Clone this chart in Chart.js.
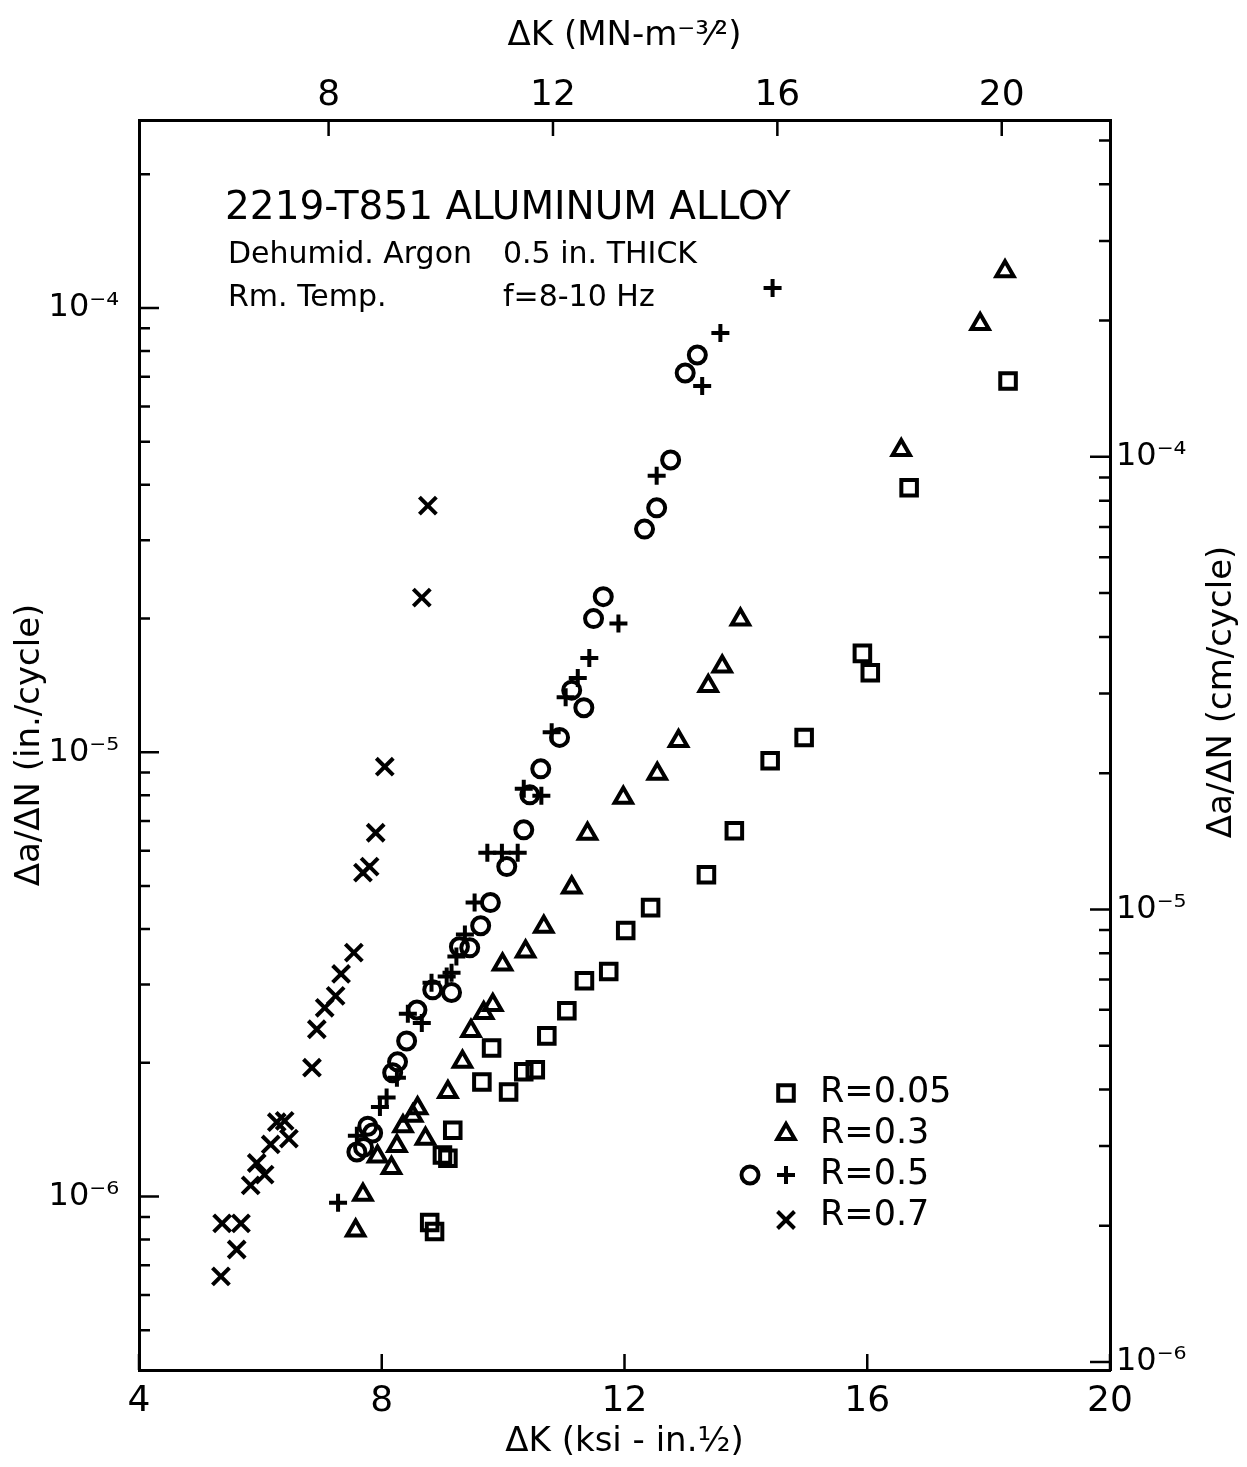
<!DOCTYPE html>
<html>
<head>
<meta charset="utf-8">
<script src="https://cdn.jsdelivr.net/npm/chart.js@4/dist/chart.umd.min.js"></script>
<style>
  body { margin: 0; background: #fff; }
  #wrap { width: 1247px; height: 1467px; }
</style>
</head>
<body>
<div id="wrap"><canvas id="grafico"></canvas></div>
<script>
// stress intensity range, ksi-in^1/2, and growth rate, in./cycle
const kR005 = [8.79, 8.87, 9.00, 9.09, 9.17, 9.65, 9.81, 10.09, 10.34, 10.53, 10.72, 11.05, 11.34, 11.74, 12.02, 12.43, 13.35, 13.81, 14.40, 14.96, 15.92, 16.05, 16.69, 18.32];
const rateR005 = [8.74e-7, 8.34e-7, 1.24e-6, 1.22e-6, 1.41e-6, 1.81e-6, 2.16e-6, 1.72e-6, 1.91e-6, 1.93e-6, 2.30e-6, 2.62e-6, 3.06e-6, 3.21e-6, 3.97e-6, 4.47e-6, 5.30e-6, 6.66e-6, 9.57e-6, 1.08e-5, 1.67e-5, 1.51e-5, 3.94e-5, 6.85e-5];

const kR03 = [7.57, 7.69, 7.93, 8.16, 8.25, 8.35, 8.51, 8.59, 8.72, 9.09, 9.33, 9.47, 9.68, 9.83, 9.99, 10.37, 10.67, 11.13, 11.39, 11.98, 12.54, 12.89, 13.38, 13.61, 13.91, 16.56, 17.86, 18.27];
const rateR03 = [8.39e-7, 1.01e-6, 1.23e-6, 1.16e-6, 1.30e-6, 1.44e-6, 1.52e-6, 1.58e-6, 1.35e-6, 1.72e-6, 2.01e-6, 2.36e-6, 2.59e-6, 2.70e-6, 3.33e-6, 3.56e-6, 4.05e-6, 4.96e-6, 6.56e-6, 7.90e-6, 8.95e-6, 1.06e-5, 1.41e-5, 1.56e-5, 1.99e-5, 4.79e-5, 9.20e-5, 1.21e-4];

// R=0.5 was plotted with two symbols
const kR05o = [7.59, 7.70, 7.77, 7.85, 8.18, 8.26, 8.41, 8.58, 8.84, 9.15, 9.28, 9.45, 9.63, 9.79, 10.06, 10.34, 10.44, 10.62, 10.93, 11.13, 11.33, 11.49, 11.65, 12.33, 12.53, 12.76, 13.00, 13.20];
const rateR05o = [1.26e-6, 1.29e-6, 1.44e-6, 1.39e-6, 1.90e-6, 2.01e-6, 2.24e-6, 2.63e-6, 2.92e-6, 2.88e-6, 3.65e-6, 3.63e-6, 4.07e-6, 4.59e-6, 5.53e-6, 6.69e-6, 8.02e-6, 9.18e-6, 1.08e-5, 1.38e-5, 1.26e-5, 2.00e-5, 2.24e-5, 3.18e-5, 3.55e-5, 4.55e-5, 7.14e-5, 7.84e-5];
const kR05p = [7.28, 7.59, 7.97, 8.08, 8.25, 8.43, 8.66, 8.82, 9.07, 9.15, 9.23, 9.37, 9.53, 9.74, 9.98, 10.24, 10.34, 10.63, 10.80, 11.03, 11.23, 11.42, 11.90, 12.53, 13.28, 13.58, 14.44];
const rateR05p = [9.69e-7, 1.37e-6, 1.59e-6, 1.67e-6, 1.85e-6, 2.58e-6, 2.46e-6, 3.03e-6, 3.13e-6, 3.19e-6, 3.47e-6, 3.89e-6, 4.59e-6, 5.94e-6, 5.94e-6, 5.94e-6, 8.28e-6, 7.98e-6, 1.11e-5, 1.33e-5, 1.47e-5, 1.63e-5, 1.95e-5, 4.19e-5, 6.68e-5, 8.79e-5, 1.11e-4];

const kR07 = [5.35, 5.37, 5.61, 5.68, 5.84, 5.94, 6.07, 6.17, 6.27, 6.40, 6.47, 6.85, 6.93, 7.06, 7.24, 7.33, 7.54, 7.69, 7.80, 7.90, 8.05, 8.66, 8.76];
const rateR07 = [6.61e-7, 8.70e-7, 7.60e-7, 8.70e-7, 1.06e-6, 1.19e-6, 1.12e-6, 1.31e-6, 1.47e-6, 1.48e-6, 1.35e-6, 1.95e-6, 2.38e-6, 2.66e-6, 2.83e-6, 3.17e-6, 3.54e-6, 5.36e-6, 5.53e-6, 6.59e-6, 9.28e-6, 2.23e-5, 3.59e-5];

const legendLabels = ['R=0.05', 'R=0.3', 'R=0.5', 'R=0.7'];
const noteLines = ['2219-T851 ALUMINUM ALLOY', 'Dehumid. Argon', '0.5 in. THICK', 'Rm. Temp.', 'f=8-10 Hz'];

const xTicks = [4, 8, 12, 16, 20];
const topTicks = [8, 12, 16, 20];
const rateTicks = [1e-6, 1e-5, 1e-4];
const cmTicks = [1e-6, 1e-5, 1e-4];

const FONT = "'DejaVu Sans', sans-serif";
Chart.defaults.font.family = FONT;
Chart.defaults.color = '#000';

const pts = (xs, ys) => xs.map((x, i) => ({ x: x, y: ys[i] }));

const SUP = { '0': '⁰', '1': '¹', '2': '²', '3': '³', '4': '⁴', '5': '⁵', '6': '⁶', '7': '⁷', '8': '⁸', '9': '⁹', '-': '⁻' };
function powLabel(v) {
    const e = Math.round(Math.log10(v));
    return '10' + String(e).split('').map(c => SUP[c]).join('');
}

function serie(label, data, style, radius) {
    return {
        label: label,
        data: data,
        pointStyle: style,
        pointRadius: radius,
        pointHoverRadius: radius,
        pointBorderWidth: 4,
        borderColor: '#000',
        backgroundColor: 'rgba(0,0,0,0)',
        showLine: false,
        xAxisID: 'x',
        yAxisID: 'y'
    };
}

// inward tick marks, notes, legend and right-hand title
const extras = {
    id: 'extras',
    afterDraw(chart) {
        const { ctx, chartArea: a, scales } = chart;
        ctx.save();
        ctx.strokeStyle = '#000';
        ctx.lineWidth = 2.5;
        ctx.beginPath();
        xTicks.forEach(v => {
            const p = scales.x.getPixelForValue(v);
            ctx.moveTo(p, a.bottom); ctx.lineTo(p, a.bottom - 16);
        });
        topTicks.forEach(v => {
            const p = scales.xTop.getPixelForValue(v);
            ctx.moveTo(p, a.top); ctx.lineTo(p, a.top + 16);
        });
        [['y', a.left, 1], ['yR', a.right, -1]].forEach(([id, edge, dir]) => {
            const s = scales[id];
            for (let e = -7; e <= -3; e++) {
                for (let m = 1; m <= 9; m++) {
                    const v = m * Math.pow(10, e);
                    if (v < s.min || v > s.max) continue;
                    const p = s.getPixelForValue(v);
                    ctx.moveTo(edge, p);
                    ctx.lineTo(edge + dir * (m === 1 ? 20 : 11), p);
                }
            }
        });
        ctx.stroke();

        ctx.fillStyle = '#000';
        ctx.textBaseline = 'middle';
        ctx.textAlign = 'left';
        ctx.font = '39px ' + FONT;
        ctx.fillText(noteLines[0], 225, 209);
        ctx.font = '30px ' + FONT;
        ctx.fillText(noteLines[1], 228, 255);
        ctx.fillText(noteLines[2], 503, 255);
        ctx.fillText(noteLines[3], 228, 298);
        ctx.fillText(noteLines[4], 503, 298);

        // legend
        const rows = [1093, 1134, 1175, 1216];
        const marks = [
            [['rect', 11, 786]],
            [['triangle', 10, 786]],
            [['circle', 8.5, 750], ['cross', 9, 786]],
            [['crossRot', 12, 786]]
        ];
        ctx.lineWidth = 4;
        ctx.fillStyle = 'rgba(0,0,0,0)';
        marks.forEach((row, i) => {
            row.forEach(([style, r, x]) => {
                Chart.helpers.drawPoint(ctx, { pointStyle: style, radius: r, borderWidth: 4, rotation: 0 }, x, rows[i] + (style === 'crossRot' ? 4 : 0));
            });
        });
        ctx.fillStyle = '#000';
        ctx.font = '35px ' + FONT;
        legendLabels.forEach((t, i) => ctx.fillText(t, 820, rows[i]));

        // right-hand axis title, read from bottom to top
        ctx.save();
        ctx.translate(1222, 692);
        ctx.rotate(-Math.PI / 2);
        ctx.textAlign = 'center';
        ctx.font = '34px ' + FONT;
        ctx.fillText('Δa/ΔN (cm/cycle)', 0, 0);
        ctx.restore();
        ctx.restore();
    }
};

const gridOff = { display: true, drawOnChartArea: false, drawTicks: false };
const borda = { display: true, color: '#000', width: 3 };

new Chart(document.getElementById('grafico').getContext('2d'), {
    type: 'scatter',
    data: {
        datasets: [
            serie(legendLabels[0], pts(kR005, rateR005), 'rect', 11),
            serie(legendLabels[1], pts(kR03, rateR03), 'triangle', 10),
            serie(legendLabels[2], pts(kR05o, rateR05o), 'circle', 8.5),
            serie(legendLabels[2], pts(kR05p, rateR05p), 'cross', 9),
            serie(legendLabels[3], pts(kR07, rateR07), 'crossRot', 12)
        ]
    },
    options: {
        responsive: true,
        maintainAspectRatio: false,
        animation: false,
        layout: { padding: 0 },
        plugins: {
            legend: { display: false },
            tooltip: { enabled: false }
        },
        scales: {
            x: {
                type: 'linear',
                position: 'bottom',
                min: 4,
                max: 20,
                grid: gridOff,
                border: borda,
                afterBuildTicks: s => { s.ticks = xTicks.map(v => ({ value: v })); },
                afterFit: s => { s.height = 97; },
                ticks: { autoSkip: false, maxRotation: 0, padding: 10, font: { size: 36 } },
                title: { display: true, text: 'ΔK (ksi - in.½)', font: { size: 34 }, padding: { top: 0, bottom: 4 } }
            },
            xTop: {
                type: 'linear',
                position: 'top',
                min: 4.62,
                max: 21.93,
                grid: gridOff,
                border: borda,
                afterBuildTicks: s => { s.ticks = topTicks.map(v => ({ value: v })); },
                afterFit: s => { s.height = 120; },
                ticks: { autoSkip: false, maxRotation: 0, padding: 3, font: { size: 36 } },
                title: { display: true, text: 'ΔK (MN-m⁻³⁄²)', font: { size: 34 }, padding: { top: 16, bottom: 0 } }
            },
            y: {
                type: 'logarithmic',
                position: 'left',
                min: 4.07e-7,
                max: 2.65e-4,
                grid: gridOff,
                border: borda,
                afterBuildTicks: s => { s.ticks = rateTicks.map(v => ({ value: v })); },
                afterFit: s => { s.width = 139; },
                ticks: { autoSkip: false, padding: 20, font: { size: 32 }, callback: v => powLabel(v) },
                title: { display: true, text: 'Δa/ΔN (in./cycle)', font: { size: 34 }, padding: { top: 10, bottom: 0 } }
            },
            yR: {
                type: 'logarithmic',
                position: 'right',
                min: 9.6e-7,
                max: 5.55e-4,
                grid: gridOff,
                border: borda,
                afterBuildTicks: s => { s.ticks = cmTicks.map(v => ({ value: v })); },
                afterFit: s => { s.width = 137; },
                ticks: { autoSkip: false, padding: 6, font: { size: 32 }, callback: v => powLabel(v) }
            }
        }
    },
    plugins: [extras]
});
</script>
</body>
</html>
